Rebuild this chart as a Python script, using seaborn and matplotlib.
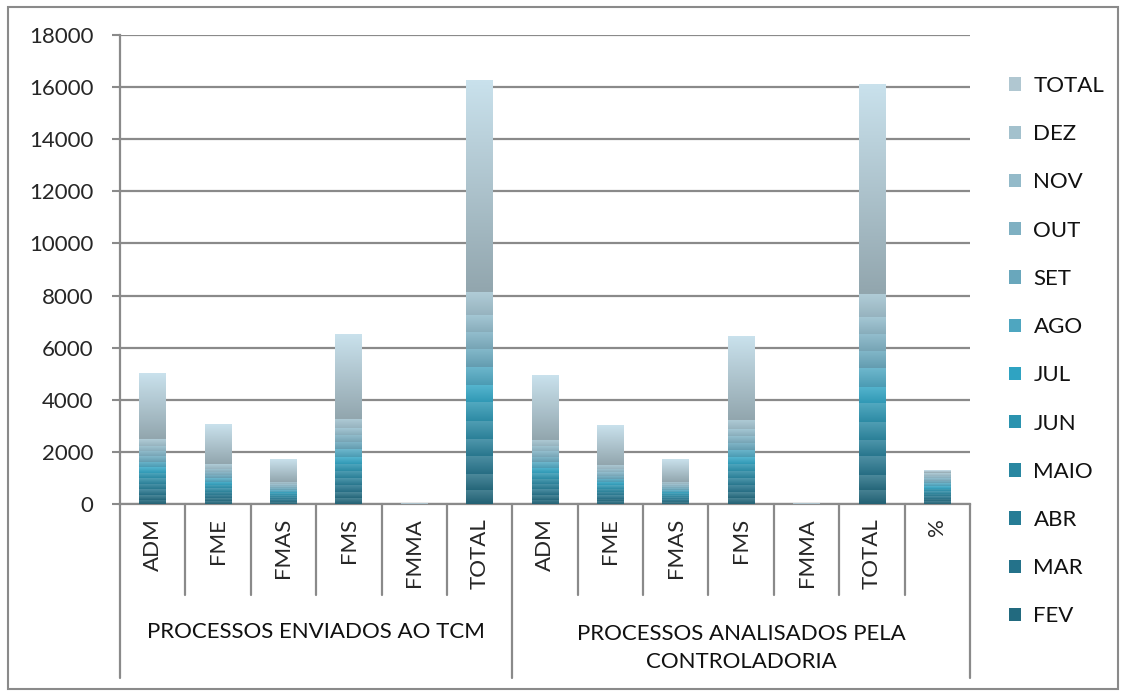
import numpy as np
import pandas as pd
import matplotlib
matplotlib.use("Agg")
import matplotlib.pyplot as plt
import matplotlib.transforms as mtransforms
from matplotlib.patches import Patch, Rectangle
from matplotlib.colors import to_rgb
import seaborn as sns

# ---------------- Data ----------------
groups = ["PROCESSOS ENVIADOS AO TCM", "PROCESSOS ANALISADOS PELA\nCONTROLADORIA"]
group_of = [0] * 6 + [1] * 7
subcats = ["ADM", "FME", "FMAS", "FMS", "FMMA", "TOTAL",
           "ADM", "FME", "FMAS", "FMS", "FMMA", "TOTAL", "%"]

months = ["JAN", "FEV", "MAR", "ABR", "MAIO", "JUN", "JUL",
          "AGO", "SET", "OUT", "NOV", "DEZ", "TOTAL"]

jan   = [170, 105, 58, 222, 0, 555,   168, 103, 58, 220, 0, 549,   98.9]
fev   = [180, 110, 60, 230, 0, 580,   178, 108, 60, 228, 0, 574,   99.0]
mar   = [220, 135, 75, 279, 1, 710,   218, 133, 74, 277, 1, 703,   99.0]
abr   = [200, 120, 68, 257, 0, 645,   198, 118, 68, 255, 0, 639,   99.1]
maio  = [215, 130, 74, 285, 1, 705,   213, 128, 73, 283, 1, 698,   99.0]
jun   = [220, 135, 75, 280, 0, 710,   218, 133, 75, 278, 0, 704,   99.2]
jul   = [200, 120, 68, 257, 0, 645,   198, 118, 68, 255, 0, 639,   99.1]
ago   = [215, 130, 74, 285, 1, 705,   213, 128, 73, 282, 1, 697,   98.9]
set_  = [210, 125, 71, 274, 0, 680,   208, 123, 71, 271, 0, 673,   99.0]
out   = [205, 125, 70, 270, 0, 670,   203, 123, 70, 268, 0, 664,   99.1]
nov   = [200, 120, 68, 261, 1, 650,   198, 118, 67, 259, 1, 643,   98.9]
dez   = [265, 165, 89, 350, 0, 869,   262, 164, 88, 347, 0, 861,   99.1]
total = [2500, 1520, 850, 3250, 4, 8124,   2475, 1497, 845, 3223, 4, 8044,   99.0]

values = [jan, fev, mar, abr, maio, jun, jul, ago, set_, out, nov, dez, total]

# colours (bottom -> top of stack)
base_colors = ["#1e6377", "#226a7f", "#24728a", "#267c95", "#2987a1", "#2b93af",
               "#2fa3c2", "#4ea6c0", "#69a7bc", "#7fb0c2", "#93bac9", "#a3c1cd", "#b0c7d1"]

GRAY = "#8a8a8a"
FS = 16

sns.set_theme(style="white")
plt.rcParams["font.family"] = ["Lato", "DejaVu Sans"]
plt.rcParams["text.color"] = "#111111"

keys = [f"{g}|{i}|{c}" for i, (g, c) in enumerate(zip(group_of, subcats))]
df = pd.DataFrame(dict(zip(months, values)))
df["key"] = keys

fig = plt.figure(figsize=(11.22, 6.92), dpi=100)
ax = fig.add_axes([120 / 1122, (692 - 504) / 692, (970 - 120) / 1122, (504 - 35) / 692])


def blend(c, other, t):
    c = np.array(to_rgb(c))
    o = np.array(to_rgb(other))
    return c * (1 - t) + o * t


def shade(patches, top, bot):
    grad = np.linspace(0, 1, 64)[:, None, None]
    img = bot[None, None, :] + (top - bot)[None, None, :] * grad
    for p in patches:
        h = p.get_height()
        if h <= 0:
            p.set_visible(False)
            continue
        x, y, w = p.get_x(), p.get_y(), p.get_width()
        ax.imshow(img, extent=[x, x + w, y, y + h], origin="lower",
                  aspect="auto", interpolation="bilinear", zorder=3)
        p.set_visible(False)


bottom = np.zeros(len(keys))
for m, c in zip(months, base_colors):
    n_before = len(ax.patches)
    sns.barplot(data=df, x="key", y=m, color=c, saturation=1, width=0.41,
                errorbar=None, bottom=bottom, ax=ax, linewidth=0)
    new = ax.patches[n_before:]
    if m == "TOTAL":
        shade(new, np.array(to_rgb("#c9e1ec")), np.array(to_rgb("#92a6ae")))
    else:
        shade(new, blend(c, "#dff4fb", 0.22), blend(c, "#3a4d55", 0.12))
    bottom = bottom + df[m].to_numpy()

ax.set_xlim(-0.5, len(keys) - 0.5)
ax.set_ylim(0, 18000)
ax.set_yticks(np.arange(0, 18001, 2000))
ax.yaxis.grid(True, color=GRAY, linewidth=1.6)
ax.set_axisbelow(True)
ax.set_xlabel("")
ax.set_ylabel("")

for s in ["top", "right"]:
    ax.spines[s].set_visible(False)
for s in ["left", "bottom"]:
    ax.spines[s].set_color(GRAY)
    ax.spines[s].set_linewidth(1.6)

ax.set_xticks(range(len(keys)))
ax.set_xticklabels(subcats, rotation=90, fontsize=FS)
ax.tick_params(axis="x", length=0, pad=10)
ax.tick_params(axis="y", direction="out", length=6, width=1.5, color=GRAY,
               labelsize=FS, pad=13, left=True)

# category separators below the axis
trans = mtransforms.blended_transform_factory(ax.transData, ax.transAxes)
for k in range(len(keys) + 1):
    x = k - 0.5
    long_line = k in (0, 6, len(keys))
    y_end = -0.371 if long_line else -0.194
    ax.plot([x, x], [0, y_end], color=GRAY, linewidth=1.6, transform=trans,
            clip_on=False, zorder=1)

# group labels
ax.text(2.5, -0.273, groups[0], transform=trans, ha="center", va="center", fontsize=FS)
ax.text(9, -0.307, groups[1], transform=trans, ha="center", va="center",
        fontsize=FS, linespacing=1.55)

# legend (Excel dropped JAN for lack of room)
handles = [Patch(facecolor=c, edgecolor="none") for c in base_colors[1:]][::-1]
labels = months[1:][::-1]
fig.legend(handles, labels, loc="upper left", bbox_to_anchor=(1009 / 1122, 1 - 76 / 692),
           frameon=False, fontsize=FS, handlelength=0.55, handleheight=0.55,
           handletextpad=0.55, labelspacing=1.27, borderpad=0, borderaxespad=0)

# outer border
fig.add_artist(Rectangle((8 / 1122, 3 / 692), 1110 / 1122, 682 / 692,
                         transform=fig.transFigure, fill=False,
                         edgecolor=GRAY, linewidth=1.5))

fig.savefig("out.png", dpi=100)
